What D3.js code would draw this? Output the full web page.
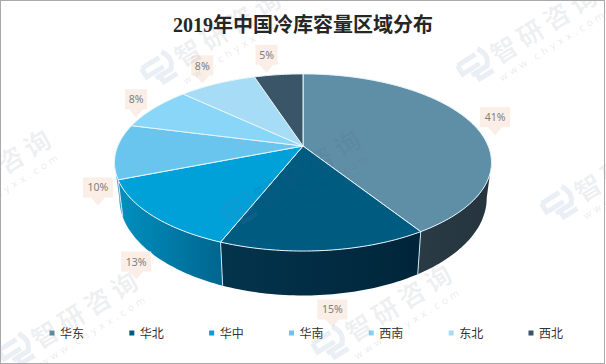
<!DOCTYPE html>
<html>
<head>
<meta charset="utf-8">
<script src="https://cdn.jsdelivr.net/npm/d3@7"></script>
<style>
body { margin: 0; background: #fff; }
svg { display: block; }
</style>
</head>
<body>
<script>
const categories = ["华东", "华北", "华中", "华南", "西南", "东北", "西北"]
const values = [41, 15, 13, 10, 8, 8, 5]
const labels = ["41%", "15%", "13%", "10%", "8%", "8%", "5%"]

const topColors = ["#5f8fa7", "#005b81", "#00a0d8", "#69c5ee", "#89d6f9", "#a6dcf6", "#3a5567"]
const sideColors = [
    ["#2a3b45", "#25343d"],
    ["#03344c", "#00253a"],
    ["#0090bf", "#00658f"],
    ["#3f9cc4", "#3f9cc4"],
    ["#3f9cc4", "#3f9cc4"],
    ["#3f9cc4", "#3f9cc4"],
    ["#2a3b45", "#2a3b45"]
]
// 라벨 말풍선 끝 위치 = 테두리 점 + offset
const labelOffsets = [[23, 12], [8, 77], [-16, 64], [-18, 54], [-18, 9], [-15, 0], [-12, -2]]
const watermarks = [[160, 70], [476, 67], [240, 210], [17, 352], [331, 345], [560, 205], [-70, 210]]

const width = 606
const height = 364

const svg = d3.select("body").append("svg")
    .attr("width", width)
    .attr("height", height)

// 원근이 들어간 원판: 윗면과 아랫면의 투영
const k = 0.186
const project = (cx, cy, rx, ry) => (a) => {
    const u = Math.sin(a)
    const v = -Math.cos(a)
    const d = 1 - k * v
    return [cx + rx * u / d, cy + ry * v / d]
}
const topRim = project(303, 146, 185.2, 85.5)
const bottomRim = project(303, 180, 180.5, 94)

const sideStart = Math.acos(-k)
const sideEnd = Math.PI * 2 - sideStart

const rimAngles = (a0, a1) => {
    const n = Math.max(2, Math.ceil((a1 - a0) / 0.02))
    return d3.range(n + 1).map((i) => a0 + (a1 - a0) * i / n)
}

const pie = d3.pie().sort(null).value((d) => d)
const slices = pie(values)
const line = d3.line()

const defs = svg.append("defs")
sideColors.forEach((c, i) => {
    const g = defs.append("linearGradient").attr("id", "side" + i)
    g.append("stop").attr("offset", 0).attr("stop-color", c[0])
    g.append("stop").attr("offset", 1).attr("stop-color", c[1])
})

svg.append("text")
    .attr("x", 303)
    .attr("y", 32)
    .attr("text-anchor", "middle")
    .attr("font-family", "'Liberation Serif', 'Noto Sans CJK SC', sans-serif")
    .attr("font-weight", "bold")
    .attr("font-size", 20)
    .attr("fill", "#262626")
    .text("2019年中国冷库容量区域分布")

// 옆면
svg.append("g").selectAll("path")
    .data(slices.filter((d) => d.startAngle < sideEnd && d.endAngle > sideStart))
    .enter()
    .append("path")
    .attr("d", (d) => {
        const as = rimAngles(Math.max(d.startAngle, sideStart), Math.min(d.endAngle, sideEnd))
        return line(as.map(topRim).concat(as.slice().reverse().map(bottomRim))) + "Z"
    })
    .attr("fill", (d) => "url(#side" + d.index + ")")
    .attr("stroke", "none")

// 옆면 경계선
svg.append("g").selectAll("line")
    .data(slices.filter((d) => d.endAngle > sideStart && d.endAngle < sideEnd))
    .enter()
    .append("line")
    .attr("x1", (d) => topRim(d.endAngle)[0])
    .attr("y1", (d) => topRim(d.endAngle)[1])
    .attr("x2", (d) => bottomRim(d.endAngle)[0])
    .attr("y2", (d) => bottomRim(d.endAngle)[1])
    .attr("stroke", "#cbe6f0")
    .attr("stroke-width", 1)

// 윗면
svg.append("g").selectAll("path")
    .data(slices)
    .enter()
    .append("path")
    .attr("d", (d) => line([[303, 146]].concat(rimAngles(d.startAngle, d.endAngle).map(topRim))) + "Z")
    .attr("fill", (d) => topColors[d.index])
    .attr("stroke", "#e6f5fb")
    .attr("stroke-width", 1)
    .attr("stroke-linejoin", "round")

// 데이터 라벨
const tags = svg.append("g").selectAll("g")
    .data(slices)
    .enter()
    .append("g")
    .attr("transform", (d) => {
        const p = topRim((d.startAngle + d.endAngle) / 2)
        const o = labelOffsets[d.index]
        return "translate(" + (p[0] + o[0]) + "," + (p[1] + o[1]) + ")"
    })

tags.append("path")
    .attr("d", (d) => {
        const w = labels[d.index].length > 2 ? 15 : 11
        return "M" + -w + ",-28H" + w + "V-8H7L0,0L-7,-8H" + -w + "Z"
    })
    .attr("fill", "#faeee6")

tags.append("text")
    .attr("y", -14)
    .attr("text-anchor", "middle")
    .attr("font-family", "'Noto Sans', sans-serif")
    .attr("font-size", 10.5)
    .attr("fill", "#7f7f7f")
    .text((d) => labels[d.index])

// 범례
const legendX = d3.scalePoint().domain(categories).range([52, 531])

const legend = svg.append("g").selectAll("g")
    .data(categories)
    .enter()
    .append("g")
    .attr("transform", (d) => "translate(" + legendX(d) + ",333)")

legend.append("rect")
    .attr("x", -2.5)
    .attr("y", -2.5)
    .attr("width", 5)
    .attr("height", 5)
    .attr("fill", (d, i) => topColors[i])

legend.append("text")
    .attr("x", 8)
    .attr("y", 4.5)
    .attr("font-family", "'Noto Sans CJK SC', sans-serif")
    .attr("font-size", 12)
    .attr("fill", "#333")
    .text((d) => d)

// 워터마크
const marks = svg.append("g").selectAll("g")
    .data(watermarks)
    .enter()
    .append("g")
    .attr("transform", (d) => "translate(" + d[0] + "," + d[1] + ") rotate(-32)")

marks.append("path")
    .attr("d", "M-15,-11H6 M-15,-11V-1H5 M11,-15C16,-6 15,-1 10,5H-8 M-3,5V12H13")
    .attr("fill", "none")
    .attr("stroke", "rgba(90,125,175,0.13)")
    .attr("stroke-width", 5)

marks.append("text")
    .attr("x", 20)
    .attr("y", 10)
    .attr("font-family", "'Noto Sans CJK SC', sans-serif")
    .attr("font-weight", "bold")
    .attr("font-size", 26)
    .attr("letter-spacing", 5)
    .attr("fill", "rgba(70,85,110,0.09)")
    .text("智研咨询")

marks.append("text")
    .attr("x", 14)
    .attr("y", 26)
    .attr("font-family", "'DejaVu Sans', sans-serif")
    .attr("font-size", 10)
    .attr("textLength", 122)
    .attr("fill", "rgba(70,85,110,0.13)")
    .text("www.chyxx.com")

svg.append("rect")
    .attr("x", 0.5)
    .attr("y", 0.5)
    .attr("width", width - 2)
    .attr("height", height - 1)
    .attr("fill", "none")
    .attr("stroke", "#a9a9a9")
</script>
</body>
</html>
